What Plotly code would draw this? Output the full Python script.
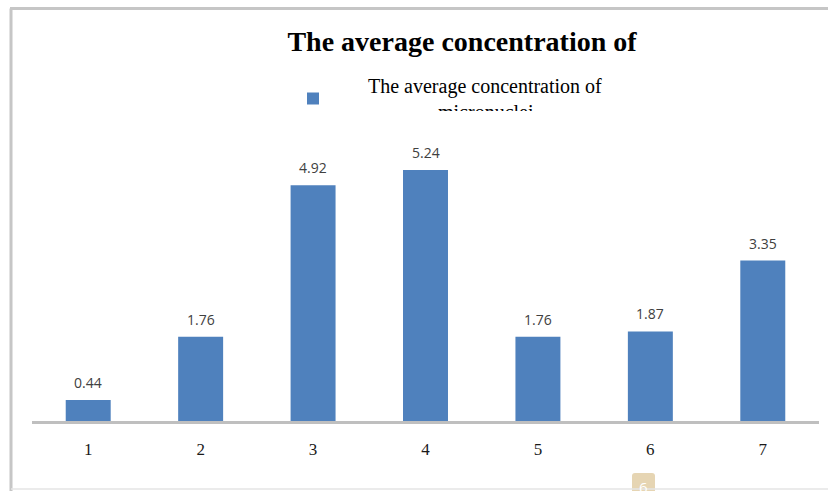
import plotly.graph_objects as go

# Chart data
categories = ["1", "2", "3", "4", "5", "6", "7"]
values = [0.44, 1.76, 4.92, 5.24, 1.76, 1.87, 3.35]
series_name = "The average concentration of"
series_name_cont = "micronuclei"
chart_title = "The average concentration of"
page_number = "6"

W, H = 828, 491
BAR_COLOR = "#4f81bd"
SERIF = "Liberation Serif, Times New Roman, serif"
SANS = "Open Sans, Liberation Sans, Arial, sans-serif"


def fx(p):
    """pixel column -> paper x"""
    return p / W


def fy(p):
    """pixel row -> paper y"""
    return 1 - p / H


NBSP = "\u00a0"
legend_label = NBSP * 7 + series_name + "<br>" + NBSP * 21 + series_name_cont

fig = go.Figure()
fig.add_trace(
    go.Bar(
        x=categories,
        y=values,
        name=legend_label,
        marker=dict(color=BAR_COLOR, line=dict(width=0)),
        showlegend=True,
    )
)

# value labels above each bar (category axis positions are indices)
for i, v in enumerate(values):
    fig.add_annotation(
        x=i, y=v, xref="x", yref="y",
        text=f"{v:.2f}", showarrow=False,
        yanchor="bottom", yshift=6,
        font=dict(family=SANS, size=14, color="#404040"),
    )

# white band hiding the lower part of the wrapped legend line
fig.add_annotation(
    xref="paper", yref="paper",
    x=fx(480), y=fy(111), xanchor="center", yanchor="top",
    text=NBSP, showarrow=False, width=360, height=18,
    bgcolor="white", borderpad=0, borderwidth=0,
)

# page-number badge
fig.add_shape(
    type="path", xref="paper", yref="paper",
    path=(f"M {fx(632)},{fy(495)} L {fx(632)},{fy(476)} "
          f"Q {fx(632)},{fy(473)} {fx(635)},{fy(473)} "
          f"L {fx(652)},{fy(473)} Q {fx(655)},{fy(473)} {fx(655)},{fy(476)} "
          f"L {fx(655)},{fy(495)} Z"),
    fillcolor="#e6d5b3", line=dict(width=0), layer="above",
)
fig.add_annotation(
    xref="paper", yref="paper", x=fx(643.5), y=fy(487),
    text=page_number, showarrow=False, xanchor="center", yanchor="middle",
    font=dict(family=SANS, size=15, color="white"),
)

# frame lines around the chart box
frame = dict(color="#c6c6c6", width=3)
fig.add_shape(type="line", xref="paper", yref="paper",
              x0=fx(10), x1=fx(830), y0=fy(8.5), y1=fy(8.5), line=frame)
fig.add_shape(type="line", xref="paper", yref="paper",
              x0=fx(11), x1=fx(11), y0=fy(8.5), y1=fy(495), line=frame)
fig.add_shape(type="line", xref="paper", yref="paper",
              x0=fx(11), x1=fx(830), y0=fy(489), y1=fy(489),
              line=dict(color="#e4e4e4", width=1.5))

fig.update_layout(
    width=W, height=H,
    margin=dict(l=0, r=0, t=0, b=0),
    paper_bgcolor="white", plot_bgcolor="white",
    bargap=0.6,
    title=dict(
        text=f"<b>{chart_title}</b>",
        x=fx(462), xanchor="center",
        y=fy(41), yanchor="middle", yref="container",
        font=dict(family=SERIF, size=28, color="#000000"),
    ),
    legend=dict(
        x=fx(293), y=fy(66), xanchor="left", yanchor="top",
        bgcolor="rgba(0,0,0,0)", borderwidth=0,
        font=dict(family=SERIF, size=20, color="#000000"),
        valign="middle",
    ),
    xaxis=dict(
        domain=[fx(32), fx(819)],
        type="category",
        range=[-0.5, len(categories) - 0.5],
        showline=True, linecolor="#bfbfbf", linewidth=3,
        showgrid=False, zeroline=False, ticks="",
        ticklabelstandoff=11,
        tickfont=dict(family=SERIF, size=17, color="#1a1a1a"),
    ),
    yaxis=dict(
        domain=[fy(421), fy(130)],
        range=[0, 6.075],
        visible=False, showgrid=False, zeroline=False,
    ),
)

fig.write_html("out.html")
